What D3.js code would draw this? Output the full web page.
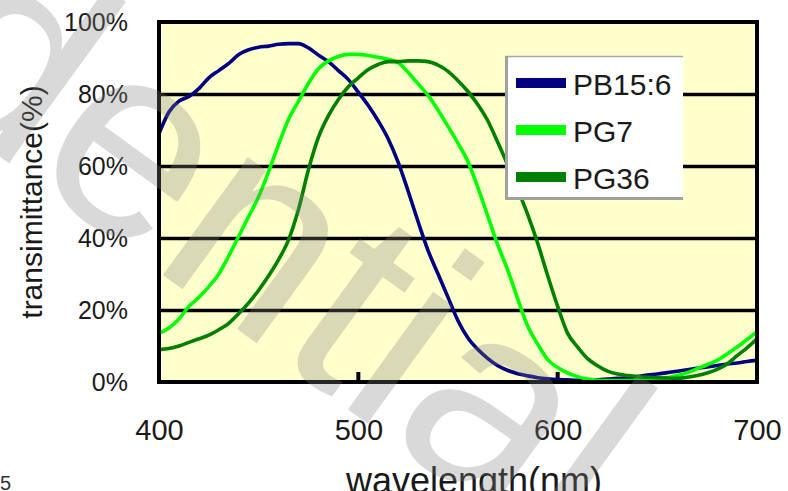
<!DOCTYPE html>
<html>
<head>
<meta charset="utf-8">
<script src="https://cdn.jsdelivr.net/npm/d3@7"></script>
<style>
  html, body { margin: 0; padding: 0; background: #ffffff; }
  svg { display: block; font-family: "Liberation Sans", Arial, sans-serif; }
</style>
</head>
<body>
<svg id="chart" width="788" height="491"></svg>
<script>
// Spectral transmittance of three pigments, sampled every 5 nm (400–700 nm)
const wavelengths = d3.range(400, 701, 5);

const seriesNames = ["PB15:6", "PG7", "PG36"];
const seriesColors = ["#000080", "#00ff00", "#008000"];

const pb156 = [69, 75, 78, 79.3, 81.5, 84.5, 86.5, 88.5, 91, 92.3,
  93, 93.3, 93.8, 94, 94, 92.8, 90.8, 89, 86.5, 84,
  80.5, 76.8, 72.5, 67.5, 61, 53, 44.5, 36.5, 30, 23.5,
  17, 12.2, 9, 6.5, 4.5, 3.2, 2.3, 1.7, 1.2, 0.9,
  0.7, 0.6, 0.5, 0.5, 0.6, 0.8, 1, 1.2, 1.5, 1.9,
  2.2, 2.6, 3, 3.4, 3.8, 4.2, 4.6, 5, 5.3, 5.7, 6];

const pg7 = [13.5, 15, 17.5, 21, 23.5, 26.5, 30, 35, 40.5, 46,
  51.5, 58.5, 66, 73, 78, 83, 87, 89.2, 90.4, 91,
  91, 90.7, 90.2, 89.6, 88.7, 86, 82.8, 79.6, 75.5, 71,
  66.3, 61.2, 54, 46, 38, 31, 23, 15.5, 10.5, 6.2,
  4, 2.5, 1.5, 0.8, 0.5, 0.4, 0.4, 0.4, 0.5, 0.6,
  0.8, 1.2, 1.8, 2.6, 3.7, 4.8, 6, 7.8, 9.7, 11.8, 14];

const pg36 = [9, 9.3, 10, 11, 12, 13, 14.5, 16.3, 19, 22,
  25.5, 29.5, 34, 39.5, 48, 59, 68, 74, 78.5, 82,
  84.5, 86.8, 88.2, 89, 89, 89.2, 89.2, 89, 88, 86.3,
  83.7, 80.7, 77, 72.5, 66.5, 60.2, 53.5, 46.5, 38.5, 29.5,
  21, 13.5, 9.7, 6.5, 4.5, 3, 2.2, 1.8, 1.5, 1.3,
  1.2, 1.1, 1, 1.3, 1.8, 2.5, 3.5, 5, 7.3, 9.5, 12];

const xTicks = [400, 500, 600, 700];
const yTicks = [0, 20, 40, 60, 80, 100];
const xTitle = "wavelength(nm)";
const yTitle = "transimittance(%)";
const watermark = "dential";

const series = seriesNames.map((name, i) => ({
  name,
  color: seriesColors[i],
  values: [pb156, pg7, pg36][i].map((v, j) => ({ w: wavelengths[j], t: v }))
}));

const svg = d3.select("#chart");
const plot = { left: 159, top: 22, right: 757, bottom: 382 };

const x = d3.scaleLinear().domain([400, 700]).range([plot.left, plot.right]);
const y = d3.scaleLinear().domain([0, 100]).range([plot.bottom, plot.top]);

// plot background
svg.append("rect")
  .attr("x", plot.left).attr("y", plot.top)
  .attr("width", plot.right - plot.left).attr("height", plot.bottom - plot.top)
  .attr("fill", "#ffffcc");

// horizontal grid lines
const grid = svg.append("g")
  .attr("transform", `translate(${plot.left},0)`)
  .call(d3.axisLeft(y).tickValues(yTicks.slice(1, -1))
    .tickSize(-(plot.right - plot.left)).tickFormat(""));
grid.select(".domain").remove();
grid.selectAll("line").attr("stroke", "#000").attr("stroke-width", 3.5);

// inward tick marks on the wavelength axis
svg.append("g").selectAll("line")
  .data(xTicks.slice(1, -1))
  .join("line")
  .attr("x1", d => x(d)).attr("x2", d => x(d))
  .attr("y1", plot.bottom).attr("y2", plot.bottom - 10)
  .attr("stroke", "#000").attr("stroke-width", 4);

// curves
svg.append("clipPath").attr("id", "plot-clip")
  .append("rect")
  .attr("x", plot.left).attr("y", plot.top)
  .attr("width", plot.right - plot.left).attr("height", plot.bottom - plot.top);

const line = d3.line()
  .x(d => x(d.w))
  .y(d => y(d.t))
  .curve(d3.curveMonotoneX);

svg.append("g").attr("clip-path", "url(#plot-clip)")
  .selectAll("path")
  .data(series)
  .join("path")
  .attr("d", d => line(d.values))
  .attr("fill", "none")
  .attr("stroke", d => d.color)
  .attr("stroke-width", 3.6)
  .attr("stroke-linejoin", "round");

// plot frame
svg.append("rect")
  .attr("x", plot.left).attr("y", plot.top)
  .attr("width", plot.right - plot.left).attr("height", plot.bottom - plot.top)
  .attr("fill", "none").attr("stroke", "#000").attr("stroke-width", 4);

// y axis labels
const yAxis = svg.append("g")
  .attr("transform", `translate(${plot.left},0)`)
  .call(d3.axisLeft(y).tickValues(yTicks).tickSize(0).tickPadding(31)
    .tickFormat(d => d + "%"));
yAxis.select(".domain").remove();
yAxis.selectAll("text")
  .attr("font-size", 25)
  .attr("font-family", "'Liberation Sans', Arial, sans-serif")
  .attr("fill", "#1a1a1a");

// x axis labels
const xAxis = svg.append("g")
  .attr("transform", `translate(0,${plot.bottom})`)
  .call(d3.axisBottom(x).tickValues(xTicks).tickSize(0).tickFormat(d3.format("d")));
xAxis.select(".domain").remove();
xAxis.selectAll("text")
  .attr("y", 58).attr("dy", 0)
  .attr("font-size", 29)
  .attr("font-family", "'Liberation Sans', Arial, sans-serif")
  .attr("fill", "#1a1a1a");

// axis titles
svg.append("text")
  .attr("transform", `translate(42,${(plot.top + plot.bottom) / 2}) rotate(-90)`)
  .attr("text-anchor", "middle")
  .attr("font-size", 30)
  .attr("fill", "#1a1a1a")
  .text(yTitle);

svg.append("text")
  .attr("x", 474).attr("y", 493)
  .attr("text-anchor", "middle")
  .attr("font-size", 36)
  .attr("fill", "#1a1a1a")
  .text(xTitle);

// page number fragment
svg.append("text")
  .attr("x", 0).attr("y", 490)
  .attr("font-size", 20)
  .attr("fill", "#333")
  .text("5");

// legend
const legend = svg.append("g");
const lg = { x: 505, y: 56, w: 178, h: 144 };
legend.append("rect")
  .attr("x", lg.x).attr("y", lg.y).attr("width", lg.w).attr("height", lg.h)
  .attr("fill", "#ffffff");
legend.append("line")
  .attr("x1", lg.x).attr("x2", lg.x + lg.w).attr("y1", lg.y + 0.5).attr("y2", lg.y + 0.5)
  .attr("stroke", "#a6a6a6").attr("stroke-width", 1.5);
legend.append("line")
  .attr("x1", lg.x + 1.5).attr("x2", lg.x + 1.5).attr("y1", lg.y).attr("y2", lg.y + lg.h)
  .attr("stroke", "#a0a0a0").attr("stroke-width", 3);
legend.append("line")
  .attr("x1", lg.x).attr("x2", lg.x + lg.w).attr("y1", lg.y + lg.h - 1.5).attr("y2", lg.y + lg.h - 1.5)
  .attr("stroke", "#a0a0a0").attr("stroke-width", 3);

const items = legend.selectAll("g.item")
  .data(series)
  .join("g")
  .attr("class", "item")
  .attr("transform", (d, i) => `translate(0,${83 + i * 47})`);
items.append("line")
  .attr("x1", 516).attr("x2", 566)
  .attr("stroke", d => d.color).attr("stroke-width", 10);
items.append("text")
  .attr("x", 573).attr("y", 12)
  .attr("font-size", 30)
  .attr("fill", "#1a1a1a")
  .text(d => d.name);

// watermark across the page
svg.append("text")
  .attr("transform", "translate(-100,84) rotate(36)")
  .attr("font-size", 275)
  .attr("font-family", "'Liberation Sans', Arial, sans-serif")
  .attr("fill", "#808080")
  .attr("fill-opacity", 0.3)
  .text(watermark);
</script>
</body>
</html>
